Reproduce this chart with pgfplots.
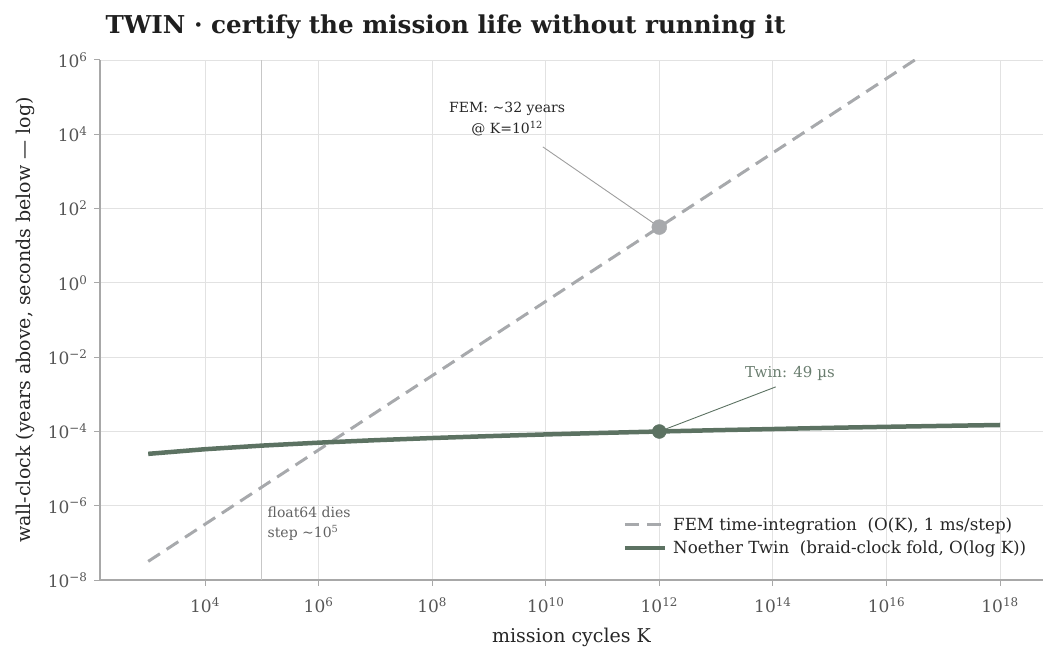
\documentclass[border=0pt]{standalone}
\usepackage{fontspec}
\setmainfont{DejaVu Serif}
\usepackage{pgfplots}
\pgfplotsset{compat=1.18}
\definecolor{femc}{HTML}{A7A9AC}
\definecolor{twinc}{HTML}{5C7262}
\definecolor{twintext}{HTML}{6A7D6F}
\definecolor{gridc}{HTML}{E2E2E2}
\definecolor{spinec}{HTML}{A8A8A8}
\definecolor{tickc}{HTML}{555555}
\begin{document}
\begin{tikzpicture}
\useasboundingbox (0,0) rectangle (1058pt,666pt);
\node[anchor=west, font=\fontsize{24.6}{30}\selectfont\bfseries, text=black!88] at (102pt,639pt) {TWIN · certify the mission life without running it};
\begin{axis}[
  at={(100pt,86pt)}, anchor=south west,
  scale only axis, width=943pt, height=520pt,
  xmode=log, ymode=log,
  xmin=1.416e2, xmax=5.71e18,
  ymin=1e-8, ymax=1e6,
  axis x line*=bottom, axis y line*=left,
  axis line style={draw=spinec, line width=1.2pt, -},
  xtick={1e4,1e6,1e8,1e10,1e12,1e14,1e16,1e18},
  xticklabels={10\textsuperscript{4},10\textsuperscript{6},10\textsuperscript{8},10\textsuperscript{10},10\textsuperscript{12},10\textsuperscript{14},10\textsuperscript{16},10\textsuperscript{18}},
  ytick={1e-8,1e-6,1e-4,1e-2,1,1e2,1e4,1e6},
  yticklabels={10\textsuperscript{−8},10\textsuperscript{−6},10\textsuperscript{−4},10\textsuperscript{−2},10\textsuperscript{0},10\textsuperscript{2},10\textsuperscript{4},10\textsuperscript{6}},
  minor xtick={}, minor ytick={},
  tick align=outside,
  major tick length=6pt,
  tick style={draw=spinec, line width=1pt},
  ticklabel style={font=\fontsize{17}{20}\selectfont, text=tickc},
  xticklabel style={yshift=-8pt},
  yticklabel style={xshift=-3pt},
  grid=major,
  major grid style={draw=gridc, line width=0.8pt},
  xlabel={mission cycles K},
  ylabel={wall-clock (years above, seconds below — log)},
  label style={font=\fontsize{19}{22}\selectfont, text=black!85},
  xlabel style={yshift=-8pt},
  ylabel style={yshift=6pt},
  legend style={at={(0.992,0.04)}, anchor=south east, draw=none, fill=none,
    font=\fontsize{16.7}{20}\selectfont, text=black!85, row sep=5pt,
    legend cell align=left,
    nodes={inner xsep=6pt}},
  legend image code/.code={\draw[#1] (0pt,0pt) -- (40pt,0pt);},
]
\draw[color=black!22, line width=1.3pt] (axis cs:1e5,1e-8) -- (axis cs:1e5,1e6);
\addplot[color=femc, line width=3pt, dash pattern=on 14pt off 8pt] coordinates {(1e3,3.17e-8) (1e17,3.17e6)};
\addlegendentry{FEM time-integration\ \ (O(K), 1 ms/step)}
\addplot[color=twinc, line width=4.5pt] coordinates {
(1e3,2.49e-5) (1e4,3.32e-5) (1e5,4.15e-5) (1e6,4.98e-5) (1e7,5.81e-5) (1e8,6.64e-5)
(1e9,7.47e-5) (1e10,8.30e-5) (1e11,9.13e-5) (1e12,9.96e-5) (1e13,1.08e-4) (1e14,1.16e-4)
(1e15,1.25e-4) (1e16,1.33e-4) (1e17,1.41e-4) (1e18,1.49e-4)};
\addlegendentry{Noether Twin\ \ (braid-clock fold, O(log K))}
\draw[color=black!38, line width=0.9pt] (axis cs:8.91e9,4571) -- (axis cs:1e12,31.7);
\draw[color=twinc, line width=0.9pt] (axis cs:1.12e14,1.58e-3) -- (axis cs:1e12,9.96e-5);
\addplot[only marks, mark=*, mark size=7.5pt, color=femc, forget plot] coordinates {(1e12,31.7)};
\addplot[only marks, mark=*, mark size=7pt, color=twinc, forget plot] coordinates {(1e12,9.96e-5)};
\node[align=center, font=\fontsize{14}{21}\selectfont, text=black!85] at (axis cs:2.09e9,25704) {FEM: \textasciitilde32 years\\@ K=10\textsuperscript{12}};
\node[font=\fontsize{15}{20}\selectfont, text=twintext] at (axis cs:2.0e14,3.72e-3) {Twin: 49 µs};
\node[anchor=west, align=left, font=\fontsize{14}{20}\selectfont, text=black!62] at (axis cs:1.1e5,3.24e-7) {float64 dies\\step \textasciitilde10\textsuperscript{5}};
\end{axis}
\end{tikzpicture}
\end{document}
